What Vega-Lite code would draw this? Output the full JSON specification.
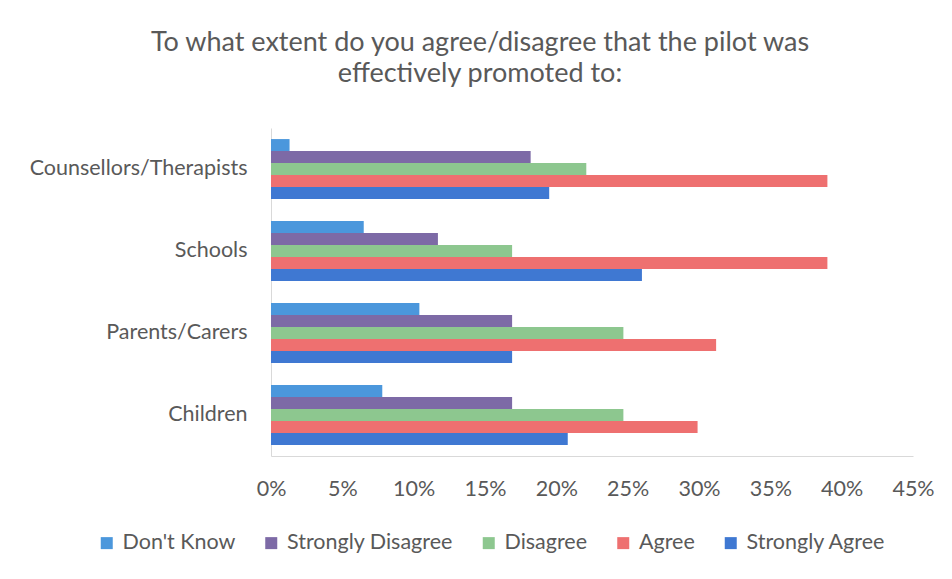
{
  "$schema": "https://vega.github.io/schema/vega-lite/v6.json",
  "autosize": "none",
  "width": 642,
  "height": 328,
  "padding": {"left": 271, "top": 128, "right": 39, "bottom": 123},
  "background": "white",
  "title": {
    "text": ["To what extent do you agree/disagree that the pilot was", "effectively promoted to:"],
    "font": "Lato",
    "fontSize": 27,
    "fontWeight": "normal",
    "color": "#595959",
    "anchor": "middle",
    "dx": -112,
    "offset": 40,
    "lineHeight": 31
  },
  "data": {
    "values": [
      {"group": "Counsellors/Therapists", "response": "Don't Know", "share": 0.013},
      {"group": "Counsellors/Therapists", "response": "Strongly Disagree", "share": 0.182},
      {"group": "Counsellors/Therapists", "response": "Disagree", "share": 0.221},
      {"group": "Counsellors/Therapists", "response": "Agree", "share": 0.390},
      {"group": "Counsellors/Therapists", "response": "Strongly Agree", "share": 0.195},
      {"group": "Schools", "response": "Don't Know", "share": 0.065},
      {"group": "Schools", "response": "Strongly Disagree", "share": 0.117},
      {"group": "Schools", "response": "Disagree", "share": 0.169},
      {"group": "Schools", "response": "Agree", "share": 0.390},
      {"group": "Schools", "response": "Strongly Agree", "share": 0.260},
      {"group": "Parents/Carers", "response": "Don't Know", "share": 0.104},
      {"group": "Parents/Carers", "response": "Strongly Disagree", "share": 0.169},
      {"group": "Parents/Carers", "response": "Disagree", "share": 0.247},
      {"group": "Parents/Carers", "response": "Agree", "share": 0.312},
      {"group": "Parents/Carers", "response": "Strongly Agree", "share": 0.169},
      {"group": "Children", "response": "Don't Know", "share": 0.078},
      {"group": "Children", "response": "Strongly Disagree", "share": 0.169},
      {"group": "Children", "response": "Disagree", "share": 0.247},
      {"group": "Children", "response": "Agree", "share": 0.299},
      {"group": "Children", "response": "Strongly Agree", "share": 0.208}
    ]
  },
  "mark": {"type": "bar"},
  "encoding": {
    "y": {
      "field": "group",
      "type": "nominal",
      "sort": ["Counsellors/Therapists", "Schools", "Parents/Carers", "Children"],
      "scale": {"paddingInner": 0.27, "paddingOuter": 0.135},
      "axis": {
        "title": null,
        "labelFont": "Lato",
        "labelFontSize": 21.5,
        "labelColor": "#595959",
        "labelPadding": 24,
        "labelLimit": 400,
        "ticks": false,
        "domainColor": "#d9d9d9",
        "grid": false
      }
    },
    "yOffset": {
      "field": "response",
      "type": "nominal",
      "sort": ["Don't Know", "Strongly Disagree", "Disagree", "Agree", "Strongly Agree"],
      "scale": {"paddingInner": 0, "paddingOuter": 0}
    },
    "x": {
      "field": "share",
      "type": "quantitative",
      "scale": {"domain": [0, 0.45], "nice": false},
      "axis": {
        "title": null,
        "format": ".0%",
        "values": [0, 0.05, 0.1, 0.15, 0.2, 0.25, 0.3, 0.35, 0.4, 0.45],
        "labelFont": "Lato",
        "labelFontSize": 21.5,
        "labelColor": "#595959",
        "labelPadding": 22,
        "ticks": false,
        "grid": false,
        "domainColor": "#d9d9d9",
        "labelFlush": false
      }
    },
    "color": {
      "field": "response",
      "type": "nominal",
      "sort": ["Don't Know", "Strongly Disagree", "Disagree", "Agree", "Strongly Agree"],
      "scale": {
        "domain": ["Don't Know", "Strongly Disagree", "Disagree", "Agree", "Strongly Agree"],
        "range": ["#4b97dc", "#7d6aa6", "#8dc78f", "#ee7070", "#3f78d2"]
      },
      "legend": {
        "title": null,
        "orient": "none",
        "direction": "horizontal",
        "legendX": -175,
        "legendY": 404,
        "symbolType": "square",
        "symbolSize": 144,
        "symbolStrokeWidth": 0,
        "labelFont": "Lato",
        "labelFontSize": 21.5,
        "labelColor": "#595959",
        "labelOffset": 5,
        "labelLimit": 400,
        "columnPadding": 24.5
      }
    }
  },
  "config": {
    "view": {"stroke": null}
  }
}
